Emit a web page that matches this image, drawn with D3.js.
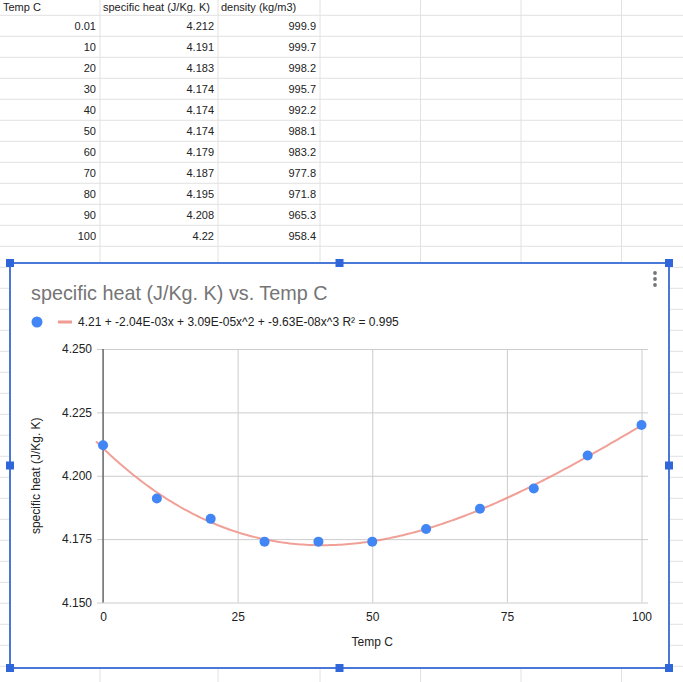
<!DOCTYPE html>
<html>
<head>
<meta charset="utf-8">
<script src="https://cdn.jsdelivr.net/npm/d3@7"></script>
<style>
  body { margin: 0; background: #fff; }
  svg { display: block; font-family: "Liberation Sans", Arial, sans-serif; }
</style>
</head>
<body>
<script>
// sheet data
var headers = ["Temp C", "specific heat (J/Kg. K)", "density (kg/m3)"];
var tempLabels = ["0.01", "10", "20", "30", "40", "50", "60", "70", "80", "90", "100"];
var temps = [0.01, 10, 20, 30, 40, 50, 60, 70, 80, 90, 100];
var heatLabels = ["4.212", "4.191", "4.183", "4.174", "4.174", "4.174", "4.179", "4.187", "4.195", "4.208", "4.22"];
var heats = [4.212, 4.191, 4.183, 4.174, 4.174, 4.174, 4.179, 4.187, 4.195, 4.208, 4.22];
var densityLabels = ["999.9", "999.7", "998.2", "995.7", "992.2", "988.1", "983.2", "977.8", "971.8", "965.3", "958.4"];

// chart text
var chartTitle = "specific heat (J/Kg. K) vs. Temp C";
var trendLabel = "4.21 + -2.04E-03x + 3.09E-05x^2 + -9.63E-08x^3 R\u00b2 = 0.995";
var xTicks = [0, 25, 50, 75, 100];
var yTicks = [4.150, 4.175, 4.200, 4.225, 4.250];

var W = 683, H = 682;
var svg = d3.select("body").append("svg").attr("width", W).attr("height", H);

// ---- spreadsheet grid ----
var rowH = 21, rowTop = 15.3;
var colLines = [100, 218, 320, 420.5, 521, 621.5];
var grid = svg.append("g").attr("stroke", "#e2e2e2").attr("stroke-width", 1);
for (var r = 0; rowTop + r * rowH < H; r++) {
	grid.append("line").attr("x1", 0).attr("x2", W)
		.attr("y1", rowTop + r * rowH).attr("y2", rowTop + r * rowH);
}
colLines.forEach(function(cx){
	grid.append("line").attr("x1", cx).attr("x2", cx).attr("y1", 0).attr("y2", H);
});

var cells = svg.append("g").attr("font-size", 11).attr("fill", "#222");
var headerY = 11;
cells.append("text").attr("x", 3).attr("y", headerY).text(headers[0]);
cells.append("text").attr("x", 103).attr("y", headerY).text(headers[1]);
cells.append("text").attr("x", 221).attr("y", headerY).text(headers[2]);
for (var i = 0; i < tempLabels.length; i++) {
	var ty = rowTop + i * rowH + 14.5;
	cells.append("text").attr("x", 96).attr("y", ty).attr("text-anchor", "end").text(tempLabels[i]);
	cells.append("text").attr("x", 214).attr("y", ty).attr("text-anchor", "end").text(heatLabels[i]);
	cells.append("text").attr("x", 316).attr("y", ty).attr("text-anchor", "end").text(densityLabels[i]);
}

// ---- chart box ----
var box = {x0: 10, y0: 263, x1: 669, y1: 668};
svg.append("rect")
	.attr("x", box.x0).attr("y", box.y0)
	.attr("width", box.x1 - box.x0).attr("height", box.y1 - box.y0)
	.attr("fill", "#fff");

var chart = svg.append("g");

chart.append("text")
	.attr("x", 31).attr("y", 300)
	.attr("font-size", 19.8).attr("fill", "#757575")
	.text(chartTitle);

// legend
chart.append("circle").attr("cx", 37).attr("cy", 322).attr("r", 5.5).attr("fill", "#4285f4");
chart.append("line").attr("x1", 58).attr("x2", 72).attr("y1", 322).attr("y2", 322)
	.attr("stroke", "#ef9a92").attr("stroke-width", 3);
chart.append("text").attr("x", 78).attr("y", 326.3)
	.attr("font-size", 12).attr("fill", "#222").text(trendLabel);

// scales
var x = d3.scaleLinear().domain([0, 100]).range([103, 641.5]);
var y = d3.scaleLinear().domain([4.15, 4.25]).range([602.5, 349]);

// horizontal gridlines + y labels
var yAxis = chart.append("g")
	.attr("transform", "translate(" + x(0) + ",0)")
	.call(d3.axisLeft(y).tickValues(yTicks).tickFormat(d3.format(".3f"))
		.tickSize(-(x(100) - x(0) + 6.5)).tickPadding(11));
yAxis.select(".domain").remove();
yAxis.selectAll(".tick line").attr("stroke", "#cccccc").attr("x1", 6);
yAxis.selectAll(".tick line").attr("x2", x(100) - x(0) + 6.5);
yAxis.selectAll(".tick line").attr("x1", -6);
yAxis.selectAll("text").attr("font-size", 12).attr("fill", "#222")
	.attr("font-family", "Liberation Sans, Arial, sans-serif");

// vertical gridlines + x labels
var xAxis = chart.append("g")
	.attr("transform", "translate(0," + y(4.15) + ")")
	.call(d3.axisBottom(x).tickValues(xTicks).tickFormat(d3.format("d"))
		.tickSize(-(y(4.15) - y(4.25))).tickPadding(10));
xAxis.select(".domain").remove();
xAxis.selectAll(".tick line").attr("stroke", "#cccccc");
xAxis.selectAll("text").attr("font-size", 12).attr("fill", "#222")
	.attr("font-family", "Liberation Sans, Arial, sans-serif");

// zero baseline
chart.append("line")
	.attr("x1", x(0)).attr("x2", x(0)).attr("y1", y(4.25)).attr("y2", y(4.15))
	.attr("stroke", "#333").attr("stroke-width", 1);

// axis titles
chart.append("text")
	.attr("x", x(50)).attr("y", 646)
	.attr("text-anchor", "middle").attr("font-size", 12).attr("fill", "#222")
	.text(headers[0]);
chart.append("text")
	.attr("transform", "translate(40," + ((y(4.25) + y(4.15)) / 2) + ") rotate(-90)")
	.attr("text-anchor", "middle").attr("font-size", 12).attr("fill", "#222")
	.text(headers[1]);

// cubic least squares trendline (same as the sheet's polynomial trendline)
var fitCubic = function(xs, ys){
	var n = 4, A = [], b = [];
	for (var r = 0; r < n; r++) {
		A.push([]);
		for (var c = 0; c < n; c++) A[r].push(d3.sum(xs, function(v){ return Math.pow(v, r + c); }));
		b.push(d3.sum(xs, function(v, k){ return ys[k] * Math.pow(v, r); }));
	}
	for (var p = 0; p < n; p++) {
		for (var r2 = p + 1; r2 < n; r2++) {
			var f = A[r2][p] / A[p][p];
			for (var c2 = p; c2 < n; c2++) A[r2][c2] -= f * A[p][c2];
			b[r2] -= f * b[p];
		}
	}
	var coef = [0, 0, 0, 0];
	for (var r3 = n - 1; r3 >= 0; r3--) {
		var s = b[r3];
		for (var c3 = r3 + 1; c3 < n; c3++) s -= A[r3][c3] * coef[c3];
		coef[r3] = s / A[r3][r3];
	}
	return coef;
};
var coef = fitCubic(temps, heats);
var trend = function(t){ return coef[0] + coef[1]*t + coef[2]*t*t + coef[3]*t*t*t; };
var trendX = d3.range(x.invert(96), 100.001, 0.5);
chart.append("path")
	.datum(trendX)
	.attr("fill", "none")
	.attr("stroke", "#ef8f86").attr("stroke-opacity", 0.85).attr("stroke-width", 2)
	.attr("d", d3.line().x(function(t){ return x(t); }).y(function(t){ return y(trend(t)); }));

// points
chart.selectAll("circle.pt")
	.data(temps)
	.enter().append("circle")
	.attr("class", "pt")
	.attr("cx", function(d){ return x(d); })
	.attr("cy", function(d, i){ return y(heats[i]); })
	.attr("r", 5)
	.attr("fill", "#4285f4");

// menu dots
[273, 279, 285].forEach(function(dy){
	chart.append("circle").attr("cx", 655).attr("cy", dy).attr("r", 1.9).attr("fill", "#757575");
});

// selection border + handles
svg.append("rect")
	.attr("x", box.x0).attr("y", box.y0)
	.attr("width", box.x1 - box.x0).attr("height", box.y1 - box.y0)
	.attr("fill", "none").attr("stroke", "#4a78d8").attr("stroke-width", 2);
var mx = (box.x0 + box.x1) / 2, my = (box.y0 + box.y1) / 2;
var handles = [[box.x0, box.y0], [mx, box.y0], [box.x1, box.y0],
	[box.x0, my], [box.x1, my],
	[box.x0, box.y1], [mx, box.y1], [box.x1, box.y1]];
svg.selectAll("rect.handle")
	.data(handles)
	.enter().append("rect")
	.attr("class", "handle")
	.attr("x", function(d){ return d[0] - 4; })
	.attr("y", function(d){ return d[1] - 4; })
	.attr("width", 8).attr("height", 8)
	.attr("fill", "#2f66da");
</script>
</body>
</html>
